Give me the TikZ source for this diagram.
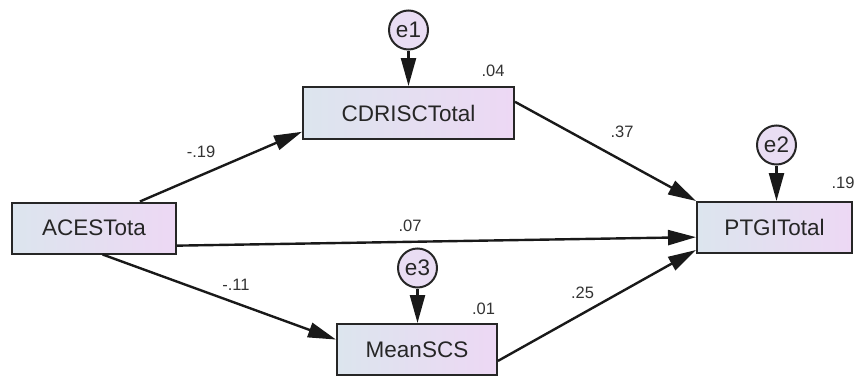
\documentclass[tikz,border=0pt]{standalone}
\usepackage{fontspec}
\setmainfont{Liberation Sans}
\usetikzlibrary{arrows.meta}
\definecolor{boxleft}{HTML}{DCE5EE}
\definecolor{boxright}{HTML}{EDD8F4}
\definecolor{errfill}{HTML}{E9DDF3}
\begin{document}
\begin{tikzpicture}[x=1pt,y=-1pt,
  var/.style={draw=black!85,line width=2pt,left color=boxleft,right color=boxright,
    minimum height=51pt,inner sep=0pt,font=\fontsize{22.5}{26}\selectfont,text=black!85},
  err/.style={circle,draw=black!85,line width=2pt,fill=errfill,minimum size=39pt,
    inner sep=0pt,font=\fontsize{22.5}{26}\selectfont,text=black!85},
  regr/.style={line width=2.4pt,draw=black!90,-{Triangle[length=28pt,width=15pt]}},
  est/.style={font=\fontsize{16.5}{19}\selectfont,text=black!80}]
\useasboundingbox (0,0) rectangle (854,375);
% observed variables
\node[var,minimum width=164pt] (aces) at (94,228) {ACESTota};
\node[var,minimum width=211pt,minimum height=52pt] (cdrisc) at (408.5,113) {CDRISCTotal};
\node[var,minimum width=155pt] (ptgi) at (774.5,227.5) {PTGITotal};
\node[var,minimum width=160pt] (scs) at (417,349.5) {MeanSCS};
% error terms
\node[err] (e1) at (408.5,30) {e1};
\node[err] (e2) at (776.5,145) {e2};
\node[err] (e3) at (417.5,268) {e3};
\draw[regr] (e1) -- (cdrisc.north);
\draw[regr] (e2) -- (e2 |- ptgi.north);
\draw[regr] (e3) -- (e3 |- scs.north);
% paths
\draw[regr] (aces.30.2) -- (cdrisc.190.2);
\draw[regr] (aces.-12.4) -- (ptgi.187.7);
\draw[regr] (aces.-72.3) -- (scs.173.2);
\draw[regr] (cdrisc.6) -- (ptgi.north west);
\draw[regr] (scs.-8.9) -- (ptgi.196.2);
% estimates
\node[est] (r1) at (493,71) {.04};
\node[est] (r2) at (843,183) {.19};
\node[est] (r3) at (483.5,309) {.01};
\node[est] (b1) at (201,152) {-.19};
\node[est] (b2) at (622,132) {.37};
\node[est] (b3) at (410,226) {.07};
\node[est] (b4) at (236,285) {-.11};
\node[est] (b5) at (582.5,293) {.25};
\end{tikzpicture}
\end{document}
